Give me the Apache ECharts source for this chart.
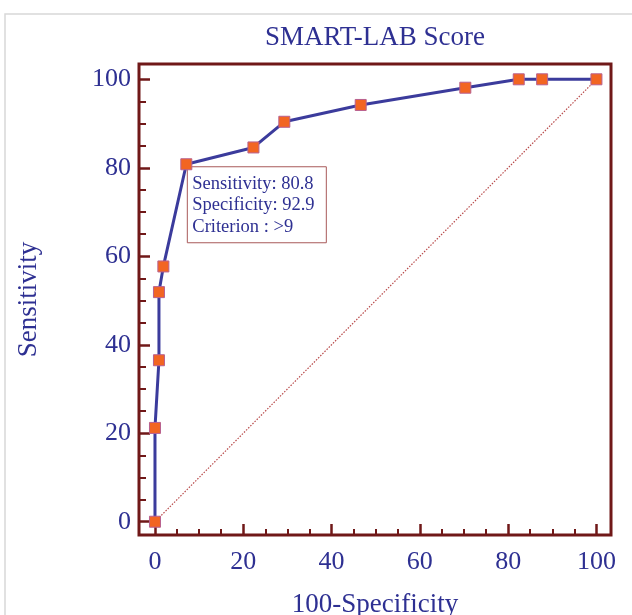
<!DOCTYPE html>
<html>

<head>
    <meta charset="UTF-8">
    <title>SMART-LAB Score ROC</title>
    <script src="https://cdn.jsdelivr.net/npm/echarts@6/dist/echarts.min.js"></script>
</head>

<body style="margin:0;background:#fff;">
    <div id="rocBox" style="width:632px;height:615px;"></div>

    <script>
        // ROC curve points: 100-Specificity vs Sensitivity
        var fprValues = [0, 0, 0.9, 0.9, 1.9, 7.1, 22.3, 29.3, 46.6, 70.3, 82.4, 87.7, 100];
        var sensValues = [0, 21.2, 36.5, 51.9, 57.7, 80.8, 84.6, 90.4, 94.2, 98.1, 100, 100, 100];

        // reference diagonal
        var diagX = [0, 100];
        var diagY = [0, 100];

        // tick labels
        var majorTicks = [0, 20, 40, 60, 80, 100];
        var minorTicks = [5, 10, 15, 25, 30, 35, 45, 50, 55, 65, 70, 75, 85, 90, 95];

        // criterion point and its info box
        var critPoint = [7.1, 80.8];
        var critLines = ['Sensitivity: 80.8', 'Specificity: 92.9', 'Criterion : >9'];

        var navy = '#2e3092';
        var axisRed = '#701818';
        var serif = "'Liberation Serif', 'Times New Roman', serif";

        var myChart = echarts.init(document.getElementById('rocBox'));

        function toPairs(xs, ys) {
            var out = [];
            for (var i = 0; i < xs.length; i++) out.push([xs[i], ys[i]]);
            return out;
        }

        function mainAxis(extra) {
            return Object.assign({
                type: 'value',
                splitLine: { show: false },
                axisLine: { show: false, onZero: false },
                axisTick: {
                    show: true,
                    inside: true,
                    length: 11,
                    customValues: majorTicks,
                    lineStyle: { color: axisRed, width: 2.5 }
                },
                nameLocation: 'middle',
                nameTextStyle: { color: navy, fontFamily: serif, fontSize: 27 }
            }, extra);
        }

        function minorAxis(extra, len) {
            return Object.assign({
                type: 'value',
                splitLine: { show: false },
                axisLine: { show: false, onZero: false },
                axisLabel: { show: false },
                axisTick: {
                    show: true,
                    inside: true,
                    length: len,
                    customValues: minorTicks,
                    lineStyle: { color: axisRed, width: 2 }
                }
            }, extra);
        }

        var option = {
            backgroundColor: '#fff',
            animation: false,
            title: {
                text: 'SMART-LAB Score',
                left: 375,
                top: 24,
                padding: 0,
                textAlign: 'center',
                textStyle: { color: navy, fontFamily: serif, fontSize: 27, fontWeight: 'normal' }
            },
            grid: {
                left: 139,
                right: 21,
                top: 64,
                bottom: 80,
                outerBoundsMode: 'none',
                containLabel: false,
                show: true,
                borderColor: axisRed,
                borderWidth: 3,
                backgroundColor: 'transparent'
            },
            xAxis: [
                mainAxis({
                    min: -3.62, max: 103.3, position: 'bottom',
                    name: '100-Specificity', nameGap: 56,
                    axisLabel: { customValues: majorTicks, color: navy, fontFamily: serif, fontSize: 26, margin: 14 }
                }),
                minorAxis({ min: -3.62, max: 103.3, position: 'bottom' }, 6)
            ],
            yAxis: [
                mainAxis({
                    min: -3.0, max: 103.46, position: 'left',
                    name: 'Sensitivity', nameGap: 97,
                    axisLabel: { customValues: majorTicks, color: navy, fontFamily: serif, fontSize: 26, margin: 8 }
                }),
                minorAxis({ min: -3.0, max: 103.46, position: 'left' }, 7)
            ],
            series: [{
                    name: 'diagonal',
                    type: 'line',
                    data: toPairs(diagX, diagY),
                    symbol: 'none',
                    silent: true,
                    lineStyle: { color: '#b84a4a', width: 1.2, type: [1.5, 1.5] },
                    z: 1
                },
                {
                    name: 'ROC',
                    type: 'line',
                    data: toPairs(fprValues, sensValues),
                    clip: false,
                    symbol: 'rect',
                    symbolSize: 11,
                    lineStyle: { color: '#3b3b9c', width: 3 },
                    itemStyle: { color: '#f26522', borderColor: '#b8608f', borderWidth: 1 },
                    z: 3
                }
            ]
        };

        myChart.setOption(option);

        // info box anchored at the criterion point
        var p = myChart.convertToPixel({ gridIndex: 0 }, critPoint);
        myChart.setOption({
            graphic: [{
                    type: 'rect',
                    shape: { x: 5, y: 14, width: 700, height: 700 },
                    style: { fill: 'none', stroke: '#d8d8d8', lineWidth: 1.5 },
                    silent: true,
                    z: -1
                },
                {
                    type: 'rect',
                    shape: { x: p[0] + 1, y: p[1] + 2.5, width: 139, height: 76 },
                    style: { fill: '#fff', stroke: '#a85a5a', lineWidth: 1 },
                    z: 1
                },
                {
                    type: 'text',
                    x: p[0] + 6,
                    y: p[1] + 9,
                    style: {
                        text: critLines.join('\n'),
                        fill: navy,
                        font: '18.5px ' + serif,
                        lineHeight: 21.5
                    },
                    z: 1
                }
            ]
        });
    </script>

</body>

</html>
